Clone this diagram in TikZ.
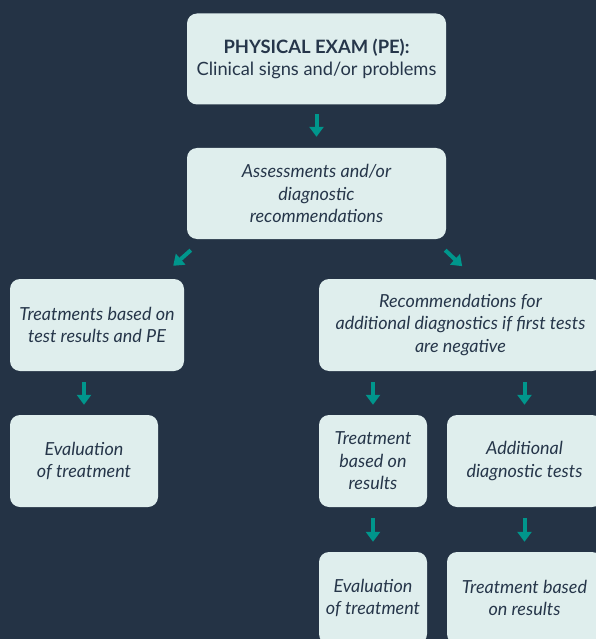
\documentclass[tikz,border=0pt]{standalone}
\usepackage{fontspec}
\setmainfont{Lato}
\usetikzlibrary{arrows.meta,calc}
\definecolor{bgc}{HTML}{243345}
\definecolor{boxc}{HTML}{DFEEED}
\definecolor{txtc}{HTML}{26364A}
\definecolor{arrc}{HTML}{00968C}
\tikzset{
  box/.style={rectangle, rounded corners=10pt, fill=boxc, text=txtc, inner sep=0pt,
    align=center, minimum height=92pt, font=\itshape\fontsize{18}{22.5}\selectfont},
  arr/.style={draw=arrc, line width=4pt, -{Triangle[width=14pt,length=10pt]}},
}
\begin{document}
\begin{tikzpicture}[x=1pt,y=1pt]
\useasboundingbox (0,0) rectangle (596,-639);
\clip (0,0) rectangle (596,-639);
\fill[bgc] (0,0) rectangle (596,-639);

\node[box, minimum width=259pt, minimum height=91pt, font=\fontsize{18.3}{22.5}\selectfont] (pe) at (316.5,-59)
  {{\bfseries\fontsize{18.4}{22.5}\selectfont PHYSICAL EXAM (PE):}\\Clinical signs and/or problems};
\node[box, minimum width=259pt, minimum height=91pt] (ass) at (316.5,-193.5)
  {Assessments and/or\\diagnostic\\recommendations};
\node[box, minimum width=174pt] (trt) at (97,-325)
  {Treatments based on\\test results and PE};
\node[box, minimum width=283pt] (rec) at (460.5,-325)
  {Recommendations for\\additional diagnostics if first tests\\are negative};
\node[box, minimum width=148pt] (ev1) at (84,-461)
  {Evaluation\\of treatment};
\node[box, minimum width=108pt] (trb) at (373,-461)
  {Treatment\\based on\\results};
\node[box, minimum width=155pt] (add) at (524.5,-461)
  {Additional\\diagnostic tests};
\node[box, minimum width=108pt] (ev2) at (373,-598)
  {Evaluation\\of treatment};
\node[box, minimum width=155pt] (trb2) at (524.5,-598)
  {Treatment based\\on results};

\draw[arr, shorten <=11pt, shorten >=11pt] ([yshift=1.5pt]pe.south) -- (ass.north);

\coordinate (d1s) at ([shift={(4pt,-11pt)}]ass.south west);
\coordinate (d1e) at ([shift={(-11pt,13pt)}]trt.north east);
\draw[arr] (d1s) -- (d1e);
\coordinate (d2s) at ([shift={(-1pt,-11pt)}]ass.south east);
\coordinate (d2e) at ([shift={(16pt,-27pt)}]ass.south east);
\draw[arr] (d2s) -- (d2e);

\draw[arr, shorten <=11pt, shorten >=10pt] (trt.south -| ev1.north) -- (ev1.north);
\draw[arr, shorten <=11pt, shorten >=10pt] (rec.south -| trb.north) -- (trb.north);
\draw[arr, shorten <=11pt, shorten >=10pt] (rec.south -| add.north) -- (add.north);
\draw[arr, shorten <=11pt, shorten >=10pt] (trb.south) -- (ev2.north);
\draw[arr, shorten <=11pt, shorten >=10pt] (add.south) -- (trb2.north);
\end{tikzpicture}
\end{document}
